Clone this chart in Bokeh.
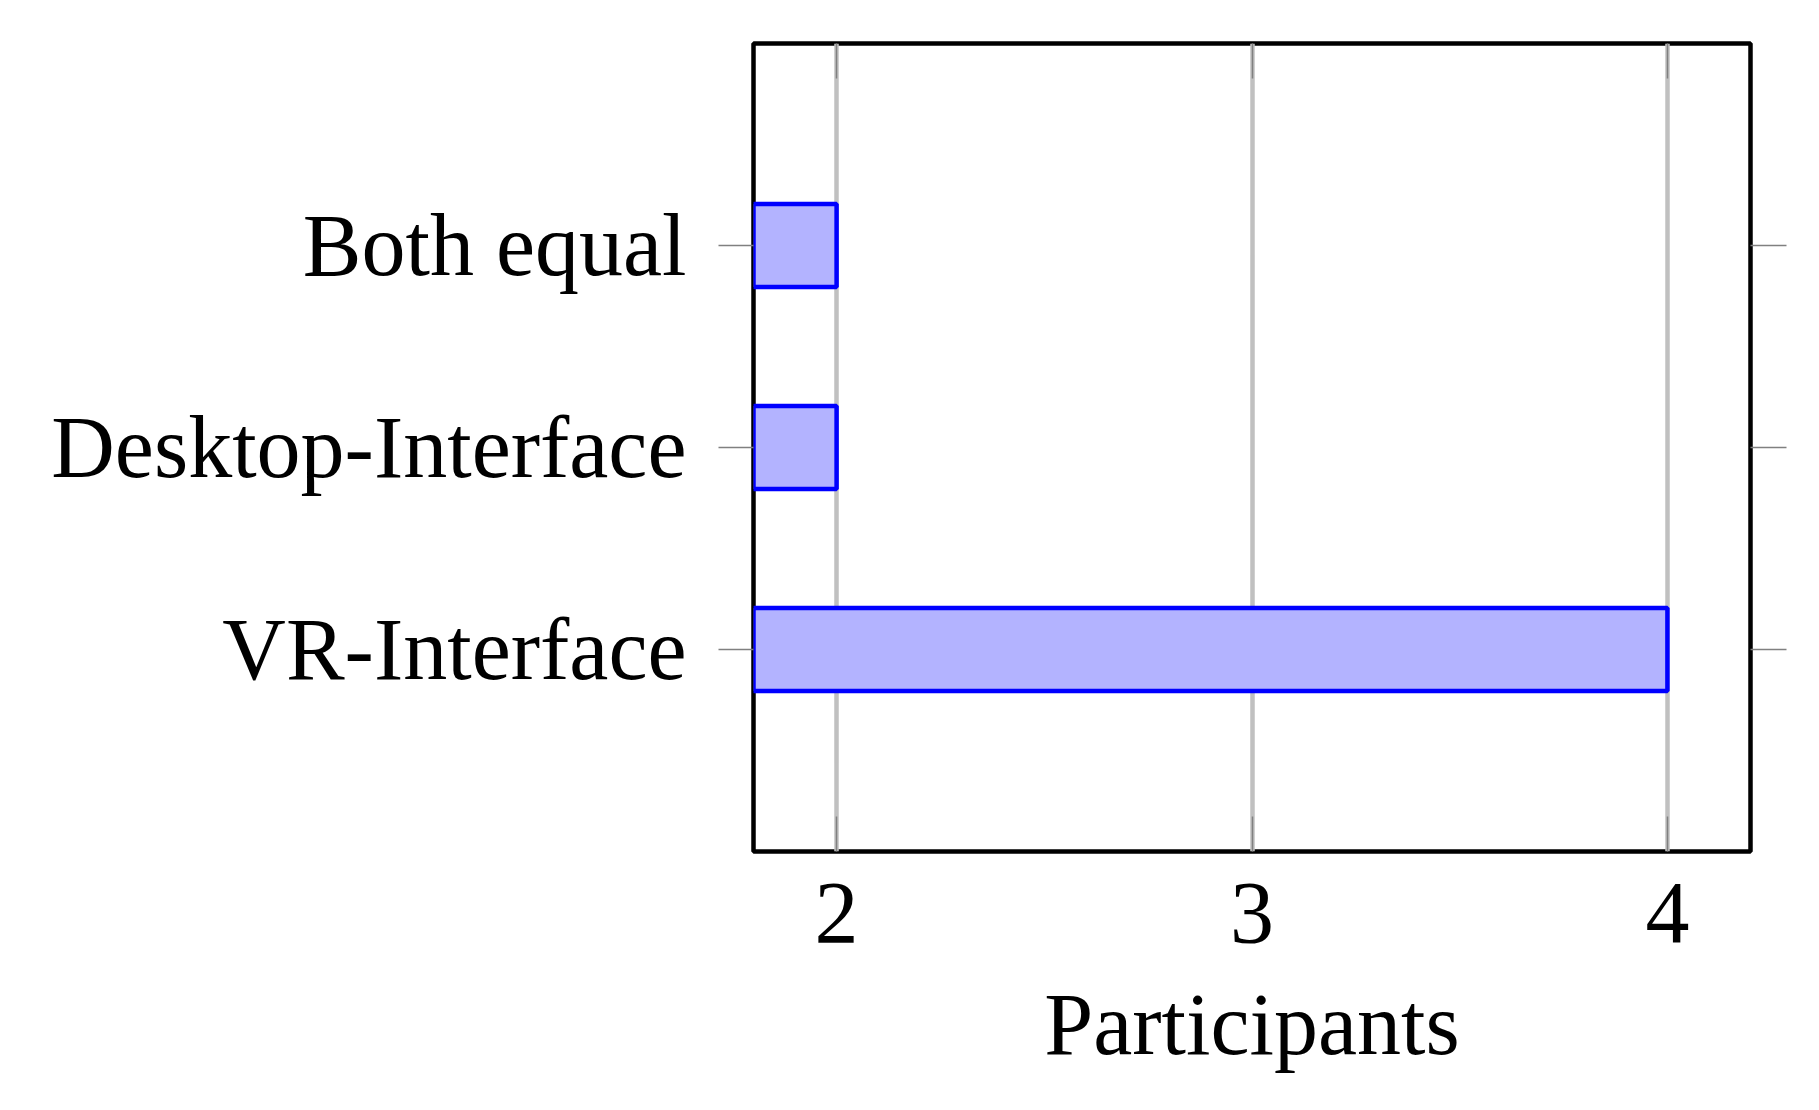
from bokeh.plotting import figure
from bokeh.models import FactorRange, Range1d, FixedTicker, CategoricalAxis, LinearAxis, ColumnDataSource
from bokeh.embed import file_html
from bokeh.resources import INLINE

# Data
categories = ["VR-Interface", "Desktop-Interface", "Both equal"]
participants = [4, 2, 2]
x_ticks = [2, 3, 4]
x_min, x_max = 1.8, 4.2
x_label = "Participants"

FONT = "Liberation Serif"
FS = "88px"

src = ColumnDataSource(dict(cat=categories, val=participants, base=[x_min] * len(categories)))

p = figure(
    width=1800, height=1090,
    y_range=FactorRange(factors=categories, range_padding=0.5, range_padding_units="absolute"),
    x_range=Range1d(x_min, x_max),
    output_backend="svg", toolbar_location=None,
    min_border_left=753, min_border_top=43, min_border_right=50, min_border_bottom=239,
)
p.background_fill_color = "white"
p.border_fill_color = "white"
p.outline_line_color = "black"
p.outline_line_width = 4.5

# grid
p.ygrid.grid_line_color = None
p.xgrid.ticker = FixedTicker(ticks=x_ticks)
p.xgrid.grid_line_color = "#c0c0c0"
p.xgrid.grid_line_width = 4.5

p.hbar(y="cat", left="base", right="val", height=0.41, source=src,
       fill_color="#b3b3ff", line_color="#0000ff", line_width=4.5)

# bottom axis
xa = p.xaxis[0]
xa.ticker = FixedTicker(ticks=x_ticks)
xa.axis_line_color = None
xa.major_tick_in = 35
xa.major_tick_out = 0
xa.major_tick_line_color = "#808080"
xa.major_tick_line_width = 1.5
xa.minor_tick_line_color = None
xa.major_label_text_font = FONT
xa.major_label_text_font_size = FS
xa.major_label_text_color = "black"
xa.major_label_standoff = 32
xa.axis_label = x_label
xa.axis_label_text_font = FONT
xa.axis_label_text_font_size = FS
xa.axis_label_text_font_style = "normal"
xa.axis_label_text_color = "black"
xa.axis_label_standoff = 31

# left axis
ya = p.yaxis[0]
ya.axis_line_color = None
ya.major_tick_in = 0
ya.major_tick_out = 35
ya.major_tick_line_color = "#808080"
ya.major_tick_line_width = 1.5
ya.major_label_text_font = FONT
ya.major_label_text_font_size = FS
ya.major_label_text_color = "black"
ya.major_label_standoff = 32

# right axis (ticks only)
ra = CategoricalAxis()
ra.axis_line_color = None
ra.major_tick_in = 0
ra.major_tick_out = 36
ra.major_tick_line_color = "#808080"
ra.major_tick_line_width = 1.5
ra.major_label_text_font_size = "1px"
ra.major_label_text_color = None
ra.major_label_standoff = 0
p.add_layout(ra, "right")

# top axis (ticks only)
ta = LinearAxis(ticker=FixedTicker(ticks=x_ticks))
ta.axis_line_color = None
ta.major_tick_in = 35
ta.major_tick_out = 0
ta.major_tick_line_color = "#808080"
ta.major_tick_line_width = 1.5
ta.minor_tick_line_color = None
ta.major_label_text_font_size = "1px"
ta.major_label_text_color = None
ta.major_label_standoff = 0
p.add_layout(ta, "above")

open("out.html", "w").write(file_html(p, INLINE))
